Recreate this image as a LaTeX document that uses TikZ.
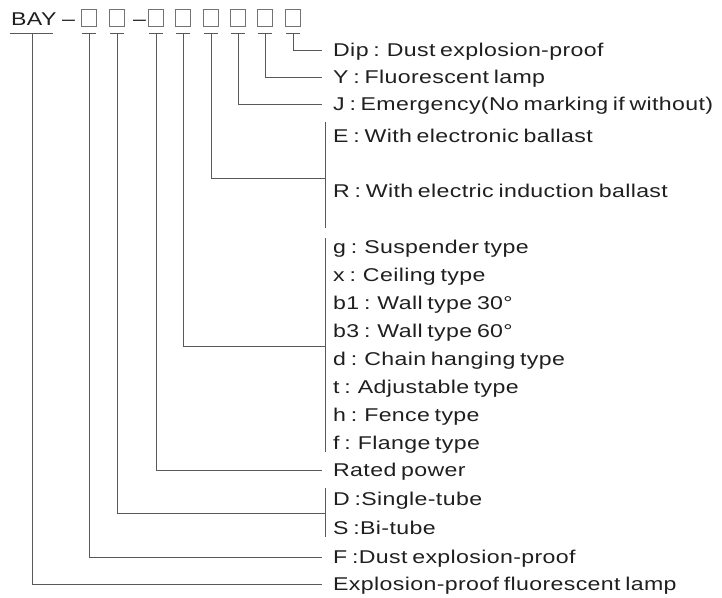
\documentclass[tikz,border=0pt]{standalone}
\usepackage{fontspec}
\setmainfont{Liberation Sans}[FakeStretch=1.25, LetterSpace=2, WordSpace=0.7]
\usepackage{tikz}

\tikzset{
  lbl/.style={anchor=west, inner sep=0pt, text height=13pt, text depth=0pt,
    font=\fontsize{18.5}{22}\selectfont, text=black!88},
  codebox/.style={draw=black!55, line width=0.7pt, minimum width=15pt,
    minimum height=17pt, inner sep=0pt},
  lead/.style={draw=black!65, line width=0.9pt}
}

\begin{document}
\begin{tikzpicture}[x=1pt,y=-1pt]
    \useasboundingbox (0,0) rectangle (722,597);
    % model code
    \node[lbl] (bay) at (11,19) {BAY};
    \node[lbl] (dasha) at (62,19) {--};
    \node[codebox] (c1) at (89,18) {};
    \node[codebox] (c2) at (117,18) {};
    \node[lbl] (dashb) at (133,19) {--};
    \node[codebox] (c3) at (156,18) {};
    \node[codebox] (c4) at (183,18) {};
    \node[codebox] (c5) at (211,18) {};
    \node[codebox] (c6) at (238,18) {};
    \node[codebox] (c7) at (265,18) {};
    \node[codebox] (c8) at (293,18) {};
    % ticks under the code
    \draw[lead] (10,33) -- (53,33);
    \coordinate (t0) at (32,33);
    \foreach \n in {1,...,8} {
        \draw[lead] ([xshift=-7pt]c\n.center |- 0,33) -- ([xshift=7pt]c\n.center |- 0,33);
        \coordinate (t\n) at (c\n.center |- 0,33);
    }
    % meanings
    \node[lbl] (dip) at (333,50) {Dip : Dust explosion-proof};
    \node[lbl] (fl) at (333,77) {Y : Fluorescent lamp};
    \node[lbl] (em) at (333,104) {J : Emergency(No marking if without)};
    \node[lbl] (eb) at (333,136) {E : With electronic ballast};
    \node[lbl] (rb) at (333,191) {R : With electric induction ballast};
    \node[lbl] (g) at (333,247) {g : Suspender type};
    \node[lbl] (x) at (333,275) {x : Ceiling type};
    \node[lbl] (b1) at (333,303) {b1 : Wall type 30°};
    \node[lbl] (b3) at (333,331) {b3 : Wall type 60°};
    \node[lbl] (d) at (333,359) {d : Chain hanging type};
    \node[lbl] (t) at (333,387) {t : Adjustable type};
    \node[lbl] (h) at (333,415) {h : Fence type};
    \node[lbl] (f) at (333,443) {f : Flange type};
    \node[lbl] (rp) at (333,470) {Rated power};
    \node[lbl] (st) at (333,499) {D :Single-tube};
    \node[lbl] (bt) at (333,528) {S :Bi-tube};
    \node[lbl] (dx) at (333,557) {F :Dust explosion-proof};
    \node[lbl] (ex) at (333,584) {Explosion-proof fluorescent lamp};
    % brackets
    \coordinate (ertop) at (325,122);
    \coordinate (ermid) at (325,178);
    \coordinate (erbot) at (325,228);
    \coordinate (gftop) at (325,238);
    \coordinate (gfmid) at (325,346);
    \coordinate (gfbot) at (325,452);
    \coordinate (dstop) at (325,488);
    \coordinate (dsmid) at (325,513);
    \coordinate (dsbot) at (325,537);
    \draw[lead] (ertop) -- (erbot);
    \draw[lead] (gftop) -- (gfbot);
    \draw[lead] (dstop) -- (dsbot);
    % leads
    \draw[lead] (t8) |- ([xshift=-11pt]dip.west);
    \draw[lead] (t7) |- ([xshift=-11pt]fl.west);
    \draw[lead] (t6) |- ([xshift=-11pt]em.west);
    \draw[lead] (t5) |- (ermid);
    \draw[lead] (t4) |- (gfmid);
    \draw[lead] (t3) |- ([xshift=-11pt]rp.west);
    \draw[lead] (t2) |- (dsmid);
    \draw[lead] (t1) |- ([xshift=-11pt]dx.west);
    \draw[lead] (t0) |- ([xshift=-11pt]ex.west);
\end{tikzpicture}
\end{document}
